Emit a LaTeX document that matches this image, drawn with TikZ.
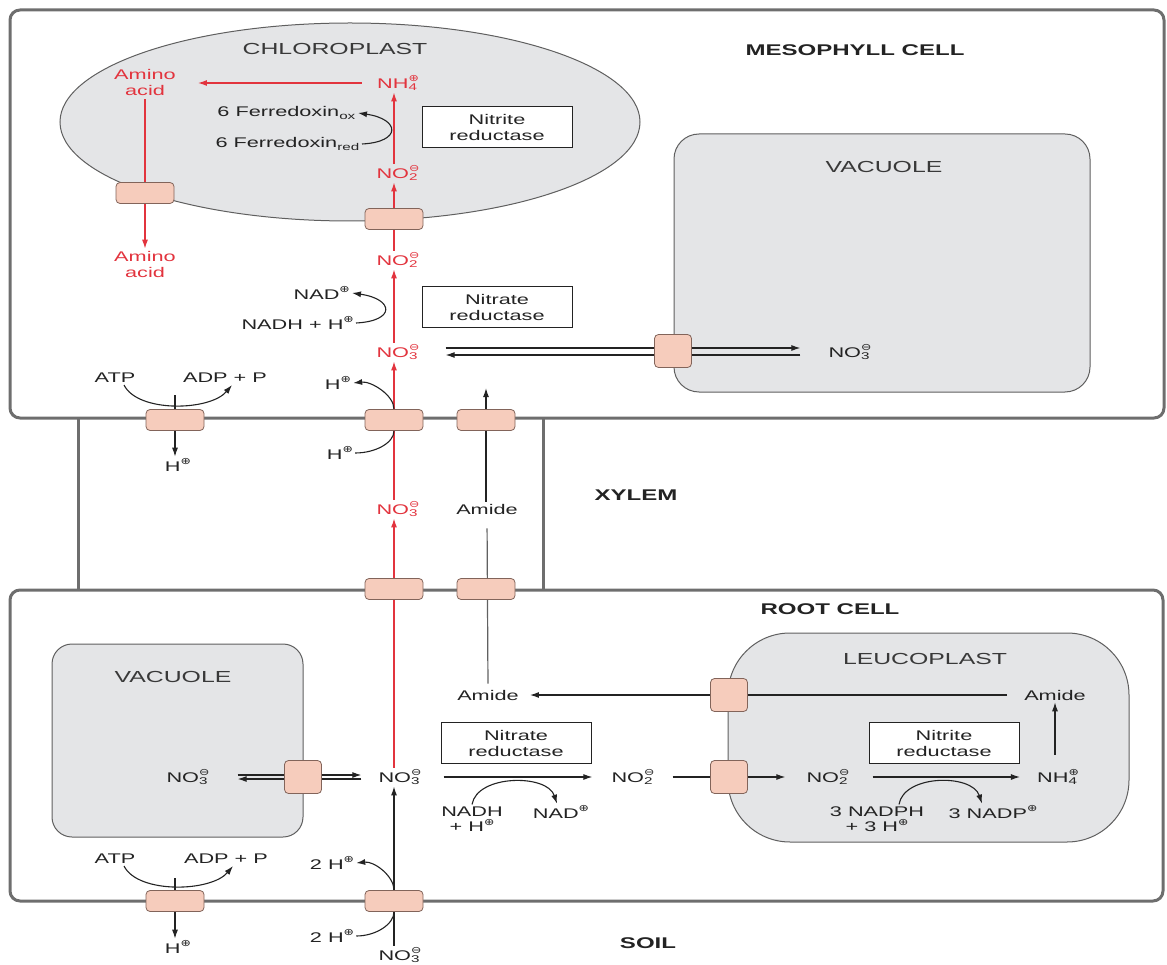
\documentclass[tikz,border=0pt]{standalone}
\usepackage{fontspec}
\setmainfont{Liberation Sans}[FakeStretch=1.55]
\newfontfamily\symf{DejaVu Sans}[FakeStretch=1.3]
\usetikzlibrary{arrows.meta,calc}
\definecolor{rd}{RGB}{226,52,62}
\definecolor{wallc}{RGB}{110,110,110}
\definecolor{org}{RGB}{228,229,231}
\definecolor{orgline}{RGB}{95,95,95}
\definecolor{tp}{RGB}{246,204,188}
\definecolor{tpline}{RGB}{130,100,90}
\definecolor{ink}{RGB}{35,35,35}
\newcommand\sgn[1]{\raisebox{6.2pt}{\symf\fontsize{9.5}{9.5}\selectfont #1}}
\newcommand\pl{\sgn{⊕}}
\newcommand\chion[2]{\rlap{\textsubscript{#1}}\sgn{#2}}
\pgfdeclarelayer{bg}
\pgfdeclarelayer{arr}
\pgfsetlayers{bg,arr,main}
\tikzset{
  lbl/.style={font=\fontsize{14}{16}\selectfont, text=ink, inner sep=2pt},
  rl/.style={lbl, text=rd},
  ttl/.style={font=\fontsize{16}{19}\selectfont, text=ink!90},
  bttl/.style={font=\bfseries\fontsize{15.5}{18}\selectfont, text=ink},
  enz/.style={draw=ink, line width=0.8pt, fill=white, minimum width=150pt, minimum height=41pt, align=center, font=\fontsize{14}{16}\selectfont, text=ink, inner sep=0pt},
  tr/.style={draw=tpline, fill=tp, rounded corners=4pt, line width=0.8pt, minimum width=58pt, minimum height=21pt, inner sep=0pt},
  trv/.style={tr, minimum width=37pt, minimum height=33pt},
  ra/.style={draw=rd, line width=1.2pt, -{Latex[length=9pt,width=6pt]}},
  ba/.style={draw=ink, line width=1.1pt, -{Latex[length=9pt,width=6pt]}},
  bl/.style={draw=ink, line width=1.1pt},
  gl/.style={draw=ink!72, line width=1.2pt},
  cellwall/.style={draw=wallc, line width=3pt, rounded corners=10pt},
  xwall/.style={draw=wallc, line width=3pt},
  organelle/.style={draw=orgline, fill=org, line width=1pt}
}
\begin{document}
\begin{tikzpicture}[x=1pt,y=-1pt]
\useasboundingbox (0,0) rectangle (1167,965);
\begin{pgfonlayer}{bg}
  \draw[cellwall] (10,10) rectangle (1164,418);
  \draw[cellwall] (10,590) rectangle (1163,901);
  \draw[xwall] (78,418) -- (78,590);
  \draw[xwall] (543,418) -- (543,590);
  \draw[organelle] (350,122) ellipse [x radius=290pt, y radius=99pt];
  \draw[organelle, rounded corners=25pt] (674,134) rectangle (1090,392);
  \draw[organelle, rounded corners=20pt] (52,644) rectangle (303,837);
  \draw[organelle, rounded corners=62pt] (728,633) rectangle (1129,842);
\end{pgfonlayer}

% ---- mesophyll labels
\node[bttl] (mes) at (855,50) {MESOPHYLL CELL};
\node[ttl] (chl) at (335,49) {CHLOROPLAST};
\node[rl, align=center] (aa1) at (145,83) {Amino\\acid};
\node[rl] (nh4) at (398,83) {NH\chion{4}{⊕}};
\node[lbl, anchor=east] (fox) at (358,113) {6 Ferredoxin\textsubscript{ox}};
\node[lbl, anchor=east] (fred) at (362,144) {6 Ferredoxin\textsubscript{red}};
\node[enz] (nir1) at (497,127) {Nitrite\\reductase};
\node[rl] (no2a) at (398,173) {NO\chion{2}{⊖}};
\node[rl, align=center] (aa2) at (145,264) {Amino\\acid};
\node[rl] (no2b) at (398,260) {NO\chion{2}{⊖}};
\node[lbl, anchor=east] (nad1) at (352,293) {NAD\pl};
\node[lbl, anchor=east] (nadh1) at (356,323) {NADH + H\pl};
\node[enz] (nr1) at (497,307) {Nitrate\\reductase};
\node[rl] (no3a) at (398,352) {NO\chion{3}{⊖}};
\node[ttl] (vt1) at (884,167) {VACUOLE};
\node[lbl] (no3v) at (850,352) {NO\chion{3}{⊖}};
\node[lbl] (atp1) at (115,378) {ATP};
\node[lbl] (adp1) at (225,378) {ADP + P};
\node[lbl] (hu1) at (338,383) {H\pl};
\node[lbl] (hl1) at (340,453) {H\pl};
\node[lbl] (hd1) at (178,465) {H\pl};
% ---- xylem
\node[rl] (no3x) at (398,509) {NO\chion{3}{⊖}};
\node[lbl] (amx) at (487,509) {Amide};
\node[bttl] (xyl) at (636,495) {XYLEM};
% ---- root
\node[bttl] (root) at (830,609) {ROOT CELL};
\node[ttl] (vt2) at (173,677) {VACUOLE};
\node[ttl] (leu) at (925,659) {LEUCOPLAST};
\node[lbl] (aml) at (488,695) {Amide};
\node[lbl] (amleu) at (1055,695) {Amide};
\node[enz] (nr2) at (516,743) {Nitrate\\reductase};
\node[enz] (nir2) at (944,743) {Nitrite\\reductase};
\node[lbl] (no3rv) at (188,777) {NO\chion{3}{⊖}};
\node[lbl] (no3r) at (400,777) {NO\chion{3}{⊖}};
\node[lbl] (no2r) at (633,777) {NO\chion{2}{⊖}};
\node[lbl] (no2l) at (828,777) {NO\chion{2}{⊖}};
\node[lbl] (nh4r) at (1058,777) {NH\chion{4}{⊕}};
\node[lbl, align=center, font=\fontsize{14}{15}\selectfont] (nadh2) at (472,819) {NADH\\+ H\pl};
\node[lbl] (nad2) at (561,812) {NAD\pl};
\node[lbl, align=center, font=\fontsize{14}{15}\selectfont] (nadph) at (877,819) {3 NADPH\\+ 3 H\pl};
\node[lbl] (nadp) at (993,812) {3 NADP\pl};
\node[lbl] (atp2) at (115,859) {ATP};
\node[lbl] (adp2) at (226,859) {ADP + P};
\node[lbl] (h2u) at (332,863) {2 H\pl};
\node[lbl] (h2l) at (332,936) {2 H\pl};
\node[lbl] (hd2) at (178,947) {H\pl};
\node[lbl] (no3s) at (400,955) {NO\chion{3}{⊖}};
\node[bttl] (soil) at (648,943) {SOIL};

% ---- transporters
\node[tr] (tc1) at (145,193) {};
\node[tr] (tc2) at (394,219) {};
\node[trv] (tv1) at (673,351) {};
\node[tr] (ta1) at (175,420) {};
\node[tr] (th1) at (394,420) {};
\node[tr] (tam1) at (486,420) {};
\node[tr] (tx1) at (394,589) {};
\node[tr] (tx2) at (486,589) {};
\node[trv] (tv2) at (303,777) {};
\node[trv] (tl1) at (729,695) {};
\node[trv] (tl2) at (729,777) {};
\node[tr] (ta2) at (175,901) {};
\node[tr] (ts) at (394,901) {};

\begin{pgfonlayer}{arr}
  % red nitrate pathway
  \draw[ra] (tc2 |- no2a.north) -- (tc2 |- nh4.south);
  \draw[ra] (tc2 |- no2b.north) -- (tc2 |- no2a.south);
  \draw[ra] (tc2 |- no3a.north) -- (tc2 |- no2b.south);
  \draw[ra] (tc2 |- no3x.north) -- (tc2 |- no3a.south);
  \draw[ra] (tc2 |- no3r.north) -- (tc2 |- no3x.south);
  \draw[ra, shorten <=13pt, shorten >=20pt] (nh4.west) -- (aa1.east |- nh4.west);
  \draw[ra, shorten <=1pt] (aa1.south) -- (aa2.north);
  % cofactor curves (mesophyll)
  \draw[ba] (fred.east) .. controls +(40,-2) and +(42,6) .. (fox.east);
  \draw[ba] (nadh1.east) .. controls +(40,-2) and +(42,6) .. (nad1.east);
  \draw[ba] (th1.north) .. controls +(0,-14) and +(18,-2) .. (hu1.east);
  \draw[bl] (hl1.east) .. controls +(20,0) and +(0,12) .. (th1.south);
  \draw[ba] ([xshift=9pt]atp1.south) .. controls +(14,28) and +(-22,26) .. ([xshift=7pt]adp1.south);
  \draw[ba] ([yshift=14pt]ta1.north) -- (ta1 |- hd1.north);
  \draw[ba] (tam1 |- amx.north) -- ([yshift=21pt]tam1.north);
  \draw[ba, shorten <=24pt, shorten >=26pt] ([yshift=4pt]no3a.east) -- ([yshift=4pt]no3v.west);
  \draw[ba, shorten <=26pt, shorten >=24pt] ([yshift=-3pt]no3v.west) -- ([yshift=-3pt]no3a.east);
  % root
  \draw[ba] (ts |- no3s.north) -- (ts |- no3r.south);
  \draw[ba] (ts.north) .. controls +(0,-14) and +(18,-2) .. (h2u.east);
  \draw[bl] (h2l.east) .. controls +(20,0) and +(0,12) .. (ts.south);
  \draw[ba] ([xshift=9pt]atp2.south) .. controls +(14,28) and +(-22,26) .. ([xshift=7pt]adp2.south);
  \draw[ba] ([yshift=12pt]ta2.north) -- (ta2 |- hd2.north);
  \draw[ba, shorten <=26pt, shorten >=15pt] ([yshift=2pt]no3rv.east) -- ([yshift=2pt]no3r.west);
  \draw[ba, shorten <=15pt, shorten >=26pt] ([yshift=-2pt]no3r.west) -- ([yshift=-2pt]no3rv.east);
  \draw[ba, shorten <=20pt, shorten >=17pt] (no3r.east) -- (no2r.west);
  \draw[ba, shorten <=16pt, shorten >=19pt] (no2r.east) -- (no2l.west);
  \draw[ba, shorten <=21pt, shorten >=15pt] (no2l.east) -- (nh4r.west);
  \draw[ba, shorten <=13pt] (amleu |- nh4r.north) -- (amleu.south);
  \draw[ba, shorten <=15pt, shorten >=9pt] (amleu.west) -- (aml.east);
  \draw[gl, shorten <=4pt, shorten >=12pt] (aml.north) -- (amx.south);
  \draw[ba] (nadh2.north) .. controls +(5,-30) and +(-10,-30) .. ([xshift=-4pt]nad2.north);
  \draw[ba] ([xshift=22pt]nadph.north) .. controls +(5,-30) and +(-10,-30) .. ([xshift=-11pt]nadp.north);
\end{pgfonlayer}
\end{tikzpicture}
\end{document}
